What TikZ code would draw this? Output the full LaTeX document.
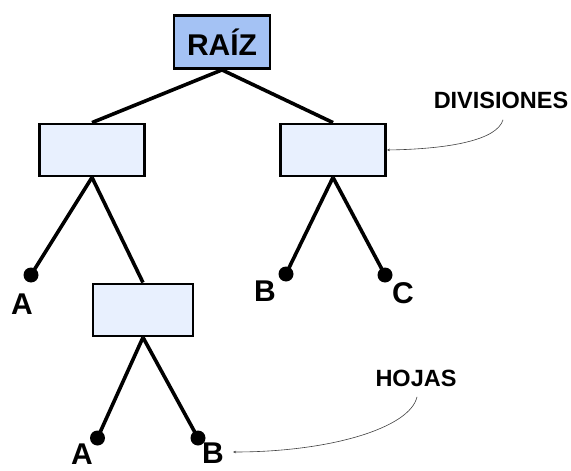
\documentclass[tikz,border=0pt]{standalone}
\usepackage{fontspec}
\setmainfont{Liberation Sans}
\usetikzlibrary{positioning,arrows.meta}
\definecolor{rootblue}{RGB}{164,194,244}
\definecolor{splitblue}{RGB}{232,240,254}

\begin{document}
\begin{tikzpicture}[x=1pt,y=-1pt,
    splitbox/.style={draw, line width=2.8pt, fill=splitblue, minimum width=105pt, minimum height=52pt, inner sep=0pt},
    branch/.style={line width=3.6pt},
    leafdot/.style={circle, fill=black, minimum size=15pt, inner sep=0pt},
    leaflabel/.style={inner sep=1pt, font=\bfseries\fontsize{30}{30}\selectfont},
    tag/.style={font=\bfseries\fontsize{23.5}{23.5}\selectfont},
    pointer/.style={line width=0.6pt, black!75, -{Stealth[length=3pt,width=2.5pt]}}]
    \useasboundingbox (0,0) rectangle (571,471);

    % boxes
    \node[splitbox, fill=rootblue, minimum width=96pt, minimum height=53pt, font=\bfseries\fontsize{30}{30}\selectfont] (root) at (222,42) {RAÍZ};
    \node[splitbox] (divL) at (92,150) {};
    \node[splitbox] (divR) at (333,150) {};
    \node[splitbox, minimum width=100pt] (divLow) at (143,310) {};

    % leaves
    \node[leafdot] (leafA) at (31,275) {};
    \node[leafdot] (leafB) at (286,274) {};
    \node[leafdot] (leafC) at (385,275) {};
    \node[leafdot] (leafLowA) at (97.5,438) {};
    \node[leafdot] (leafLowB) at (198,438) {};

    \node[leaflabel] (labA) at (22,304) {A};
    \node[leaflabel] (labB) at (265,291) {B};
    \node[leaflabel] (labC) at (403,293) {C};
    \node[leaflabel] (labLowA) at (82,454) {A};
    \node[leaflabel] (labLowB) at (213,453) {B};

    % branches
    \draw[branch] (root.south) -- (divL.north);
    \draw[branch] (root.south) -- (divR.north);
    \draw[branch] (divL.south) -- (leafA.center);
    \draw[branch] (divL.south) -- (divLow.north);
    \draw[branch] (divR.south) -- (leafB.center);
    \draw[branch] (divR.south) -- (leafC.center);
    \draw[branch] (divLow.south) -- (leafLowA.center);
    \draw[branch] (divLow.south) -- (leafLowB.center);

    % callouts
    \node[tag] (divTag) at (501,100) {DIVISIONES};
    \node[tag] (leafTag) at (416,378) {HOJAS};
    \draw[pointer] ([xshift=2pt,yshift=-8pt]divTag.south) .. controls (497,140) and (450,149) .. (divR.east);
    \draw[pointer] ([xshift=1pt,yshift=-7pt]leafTag.south) .. controls (410,428) and (330,452) .. ([xshift=8pt,yshift=1pt]labLowB.east);
\end{tikzpicture}
\end{document}
